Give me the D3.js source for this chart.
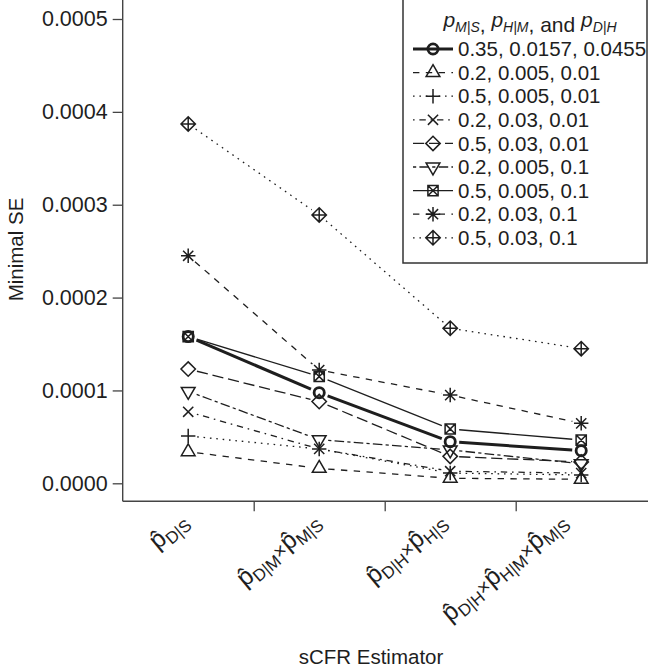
<!DOCTYPE html>
<html><head><meta charset="utf-8">
<script src="https://cdn.jsdelivr.net/npm/d3@7"></script>
<style>
body{margin:0;background:#fff}
svg{display:block}
text{font-family:"Liberation Sans",Arial,Helvetica,sans-serif;fill:#1e1e1e}
</style>
</head><body>
<svg id="chart" width="648" height="669"></svg>
<script>
// ---- data ----
const categories = ["D|S", "D|M × M|S", "D|H × H|S", "D|H × H|M × M|S"];
const seriesLabels = ["0.35, 0.0157, 0.0455", "0.2, 0.005, 0.01", "0.5, 0.005, 0.01", "0.2, 0.03, 0.01",
  "0.5, 0.03, 0.01", "0.2, 0.005, 0.1", "0.5, 0.005, 0.1", "0.2, 0.03, 0.1", "0.5, 0.03, 0.1"];
const s1 = [0.000158, 0.0000976, 0.0000448, 0.0000351];
const s2 = [0.000034, 0.0000161, 0.0000054, 0.0000043];
const s3 = [0.000051, 0.000037, 0.000011, 0.000009];
const s4 = [0.000077, 0.000037, 0.000013, 0.000011];
const s5 = [0.000123, 0.000088, 0.000029, 0.000023];
const s6 = [0.000099, 0.000047, 0.000036, 0.000021];
const s7 = [0.000158, 0.000115, 0.0000585, 0.0000466];
const s8 = [0.000245, 0.000122, 0.000095, 0.0000646];
const s9 = [0.000387, 0.000289, 0.000167, 0.000145];
const yTicks = [0, 0.0001, 0.0002, 0.0003, 0.0004, 0.0005];
const seriesValues = [s1, s2, s3, s4, s5, s6, s7, s8, s9];
const pchs = [1, 2, 3, 4, 5, 6, 7, 8, 9];
const ltys = ["solid", "dashed", "dotted", "dotdash", "longdash", "twodash", "solid", "dashed", "dotted"];
const lwds = [3, 1.3, 1.3, 1.3, 1.3, 1.3, 1.3, 1.3, 1.3];

// ---- layout ----
const ink = "#1e1e1e";
const left = 122.7, right = 646.7, axisY = 501.3;
const svg = d3.select("#chart");
const x = d3.scaleBand().domain(categories).range([left, right]).paddingInner(0).paddingOuter(0);
const cx = c => x(c) + x.bandwidth() / 2;
const y = d3.scaleLinear().domain([0, 0.0005]).range([483.3, 19]);

const U = 1.6;
const dashMap = {
  solid: null,
  dashed: [4 * U, 4 * U],
  dotted: [1 * U, 3 * U],
  dotdash: [1 * U, 3 * U, 4 * U, 3 * U],
  longdash: [7 * U, 3 * U],
  twodash: [2 * U, 2 * U, 6 * U, 2 * U]
};

function symbolPath(pch, r) {
  const p = d3.path();
  const plus = s => { p.moveTo(-s, 0); p.lineTo(s, 0); p.moveTo(0, -s); p.lineTo(0, s); };
  const cross = s => { p.moveTo(-s, -s); p.lineTo(s, s); p.moveTo(-s, s); p.lineTo(s, -s); };
  const diamond = s => { p.moveTo(0, -s); p.lineTo(s, 0); p.lineTo(0, s); p.lineTo(-s, 0); p.closePath(); };
  const tri = (dir) => {
    const xc = 1.347 * r, rr = 1.555 * r, yc = 0.777 * r;
    p.moveTo(0, -rr * dir); p.lineTo(xc, yc * dir); p.lineTo(-xc, yc * dir); p.closePath();
  };
  switch (pch) {
    case 1: p.moveTo(r, 0); p.arc(0, 0, r, 0, 2 * Math.PI); break;
    case 2: tri(1); break;
    case 3: plus(Math.SQRT2 * r); break;
    case 4: cross(r); break;
    case 5: diamond(Math.SQRT2 * r); break;
    case 6: tri(-1); break;
    case 7: p.rect(-r, -r, 2 * r, 2 * r); cross(r); break;
    case 8: cross(r); plus(Math.SQRT2 * r); break;
    case 9: diamond(Math.SQRT2 * r); plus(Math.SQRT2 * r); break;
  }
  return p.toString();
}

// ---- axes ----
const yAxis = d3.axisLeft(y).tickValues(yTicks).tickFormat(d3.format(".4f")).tickSize(10).tickPadding(5).tickSizeOuter(0);
const gy = svg.append("g").attr("transform", `translate(${left},0)`).call(yAxis);
gy.select(".domain").remove();
gy.selectAll(".tick line").attr("stroke", "#444").attr("stroke-width", 1.3);
gy.selectAll(".tick text").attr("font-size", 21.5).attr("fill", ink)
  .attr("font-family", "'Liberation Sans',Arial,sans-serif");

svg.append("line").attr("x1", left).attr("x2", left).attr("y1", 0).attr("y2", axisY)
  .attr("stroke", "#444").attr("stroke-width", 1.4);
svg.append("line").attr("x1", left).attr("x2", 648).attr("y1", axisY).attr("y2", axisY)
  .attr("stroke", "#444").attr("stroke-width", 1.4);

// x ticks at category boundaries
const boundaryScale = d3.scaleLinear().domain([left, right]).range([left, right]);
const xAxis = d3.axisBottom(boundaryScale).tickValues(categories.slice(1).map(c => x(c)))
  .tickSize(10).tickFormat("").tickSizeOuter(0);
const gx = svg.append("g").attr("transform", `translate(0,${axisY})`).call(xAxis);
gx.select(".domain").remove();
gx.selectAll(".tick line").attr("stroke", "#444").attr("stroke-width", 1.3);

// x tick labels (rotated math)
const labelShift = [1.5, 2.5, -2.5, -12.5];
categories.forEach((c, ci) => {
  const parts = c.split(" × ");
  const t = svg.append("text")
    .attr("transform", `translate(${cx(c) + labelShift[ci]},${axisY + 22}) rotate(-40)`)
    .attr("text-anchor", "end").attr("font-size", 25);
  parts.forEach((pt, i) => {
    t.append("tspan").attr("dy", i === 0 ? 0 : -1).text("p\u0302");
    t.append("tspan").attr("font-size", 17).attr("dy", 5).text(pt);
    if (i < parts.length - 1) t.append("tspan").attr("font-size", 20).attr("dy", -4).text("×");
  });
});

// axis titles
svg.append("text").attr("transform", "translate(23,249.5) rotate(-90)")
  .attr("text-anchor", "middle").attr("font-size", 20.5).text("Minimal SE");
svg.append("text").attr("x", 371).attr("y", 664)
  .attr("text-anchor", "middle").attr("font-size", 20.5).text("sCFR Estimator");

// ---- series ----
const gap = 9;
seriesValues.forEach((vals, k) => {
  const pts = categories.map((c, i) => [cx(c), y(vals[i])]);
  const g = svg.append("g");
  for (let i = 0; i < pts.length - 1; i++) {
    const [x0, y0] = pts[i], [x1, y1] = pts[i + 1];
    const len = Math.hypot(x1 - x0, y1 - y0);
    const ux = (x1 - x0) / len, uy = (y1 - y0) / len;
    g.append("path")
      .attr("d", d3.line()([[x0 + ux * gap, y0 + uy * gap], [x1 - ux * gap, y1 - uy * gap]]))
      .attr("fill", "none").attr("stroke", ink).attr("stroke-width", lwds[k])
      .attr("stroke-dasharray", dashMap[ltys[k]] ? dashMap[ltys[k]].join(",") : null);
  }
  g.selectAll("path.m").data(pts).join("path").attr("class", "m")
    .attr("transform", d => `translate(${d[0]},${d[1]})`)
    .attr("d", symbolPath(pchs[k], 5.1))
    .attr("fill", "none").attr("stroke", ink).attr("stroke-width", k === 0 ? 2.8 : 1.5);
});

// ---- legend ----
const lg = svg.append("g");
lg.append("rect").attr("x", 403).attr("y", -3).attr("width", 244).attr("height", 266)
  .attr("fill", "#fff").attr("stroke", "#333").attr("stroke-width", 1.5);
const title = lg.append("text").attr("x", 530).attr("y", 27).attr("text-anchor", "middle").attr("font-size", 21);
[["M|S", ", "], ["H|M", ", and "], ["D|H", ""]].forEach((d, i) => {
  title.append("tspan").attr("font-style", "italic").attr("dy", i === 0 ? 0 : -5).text("p");
  title.append("tspan").attr("font-style", "italic").attr("font-size", 14).attr("dy", 5).text(d[0]);
  if (d[1]) title.append("tspan").text(d[1]);
});
seriesLabels.forEach((lab, k) => {
  const yy = 49 + k * 23.6;
  lg.append("line").attr("x1", 413).attr("x2", 453).attr("y1", yy).attr("y2", yy)
    .attr("stroke", ink).attr("stroke-width", lwds[k])
    .attr("stroke-dasharray", dashMap[ltys[k]] ? dashMap[ltys[k]].join(",") : null);
  lg.append("path").attr("transform", `translate(433,${yy})`).attr("d", symbolPath(pchs[k], 5.1))
    .attr("fill", "none").attr("stroke", ink).attr("stroke-width", k === 0 ? 2.8 : 1.5);
  lg.append("text").attr("x", 458).attr("y", yy).attr("dy", "0.35em").attr("font-size", 20.5).text(lab);
});
</script>
</body></html>
